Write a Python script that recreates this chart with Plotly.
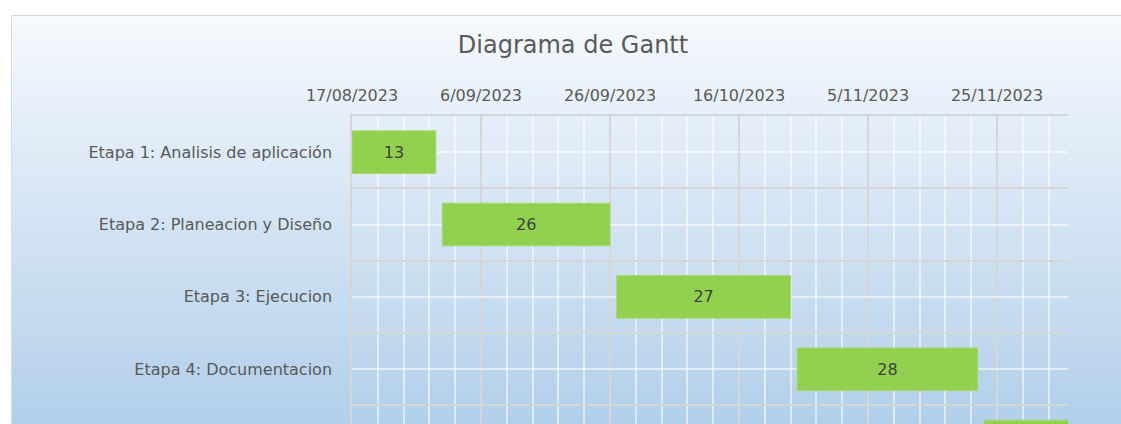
import plotly.graph_objects as go

# ---------------- data ----------------
tasks = ["Etapa 1: Analisis de aplicación", "Etapa 2: Planeacion y Diseño",
         "Etapa 3: Ejecucion", "Etapa 4: Documentacion", "Etapa 5: Entrega"]
start_dates = ["2023-08-17", "2023-08-31", "2023-09-27", "2023-10-25", "2023-11-23"]
durations_days = [13, 26, 27, 28, 14]
bar_labels = ["13", "26", "27", "28", ""]   # last bar's label lies below the visible area
x_range = ["2023-08-17", "2023-12-06"]
tick_start = "2023-08-17"

DAY_MS = 86400000
W, H = 1121, 424
PL, PR, PT, PB = 352, 1068, 116, 424  # plot area in pixels

def px_to_paper_x(px):
    return (px - PL) / (PR - PL)

def px_to_paper_y(py):
    return (PB - py) / (PB - PT)

fig = go.Figure()
fig.add_trace(go.Bar(
    y=list(range(len(tasks))),
    x=[d * DAY_MS for d in durations_days],
    base=start_dates,
    orientation="h",
    width=0.59,
    marker=dict(color="#92d050", line=dict(color="#a6da72", width=1)),
    text=bar_labels,
    textposition="inside",
    insidetextanchor="middle",
    textfont=dict(family="DejaVu Sans", size=16, color="#404040"),
    hoverinfo="skip",
))

# gradient background (chart area) as thin stacked strips
shapes = []
top_c = (246, 249, 253)
bot_c = (178, 207, 234)
y0px, y1px = 16, 424
n = 68
for i in range(n):
    a = y0px + (y1px - y0px) * i / n
    b = y0px + (y1px - y0px) * (i + 1) / n + 0.6
    t = (i + 0.5) / n
    c = tuple(round(top_c[k] + (bot_c[k] - top_c[k]) * t) for k in range(3))
    shapes.append(dict(type="rect", xref="paper", yref="paper", layer="below",
                       x0=px_to_paper_x(11), x1=px_to_paper_x(W + 5),
                       y0=px_to_paper_y(b), y1=px_to_paper_y(a),
                       line=dict(width=0), fillcolor="rgb(%d,%d,%d)" % c))
shapes.append(dict(type="rect", xref="paper", yref="paper", layer="below",
                   x0=px_to_paper_x(11.5), x1=px_to_paper_x(W + 5),
                   y0=px_to_paper_y(H + 5), y1=px_to_paper_y(15.5),
                   line=dict(width=1, color="#d9d9d9"), fillcolor="rgba(0,0,0,0)"))

fig.update_layout(
    width=W, height=H,
    margin=dict(l=PL, r=W - PR, t=PT, b=H - PB, pad=0),
    paper_bgcolor="white",
    plot_bgcolor="rgba(0,0,0,0)",
    showlegend=False,
    shapes=shapes,
    title=dict(text="Diagrama de Gantt", x=573 / W, xref="container",
               y=1 - 45 / H, yref="container", xanchor="center", yanchor="middle",
               font=dict(family="DejaVu Sans", size=24, color="#595959")),
    font=dict(family="DejaVu Sans", color="#595959"),
)

fig.update_xaxes(
    type="date", side="top", range=x_range,
    tick0=tick_start, dtick=20 * DAY_MS, tickformat="%-d/%m/%Y",
    tickfont=dict(family="DejaVu Sans", size=16, color="#595959"),
    ticks="", ticklabelstandoff=7,
    showgrid=True, gridcolor="#d6d6d6", gridwidth=1.5,
    minor=dict(tick0=tick_start, dtick=4 * DAY_MS, showgrid=True,
               gridcolor="rgba(255,255,255,0.55)", gridwidth=1.5),
    showline=True, linecolor="#d6d6d6", linewidth=1.5,
    zeroline=False,
)

fig.update_yaxes(
    range=[(PB - 152) / 72.4, -0.5],
    tickvals=list(range(len(tasks))), ticktext=tasks,
    tickfont=dict(family="DejaVu Sans", size=16, color="#595959"),
    ticks="", ticklabelstandoff=15,
    showgrid=True, gridcolor="rgba(255,255,255,0.55)", gridwidth=1.5,
    minor=dict(tickvals=[i - 0.5 for i in range(len(tasks) + 1)], showgrid=True,
               gridcolor="#d6d6d6", gridwidth=1.5),
    showline=True, linecolor="#d6d6d6", linewidth=1.5,
    zeroline=False,
)

fig.write_html("out.html",
               config={"displayModeBar": False},
               post_script="document.body.style.margin='0';"
                           "document.body.style.overflow='hidden';")
